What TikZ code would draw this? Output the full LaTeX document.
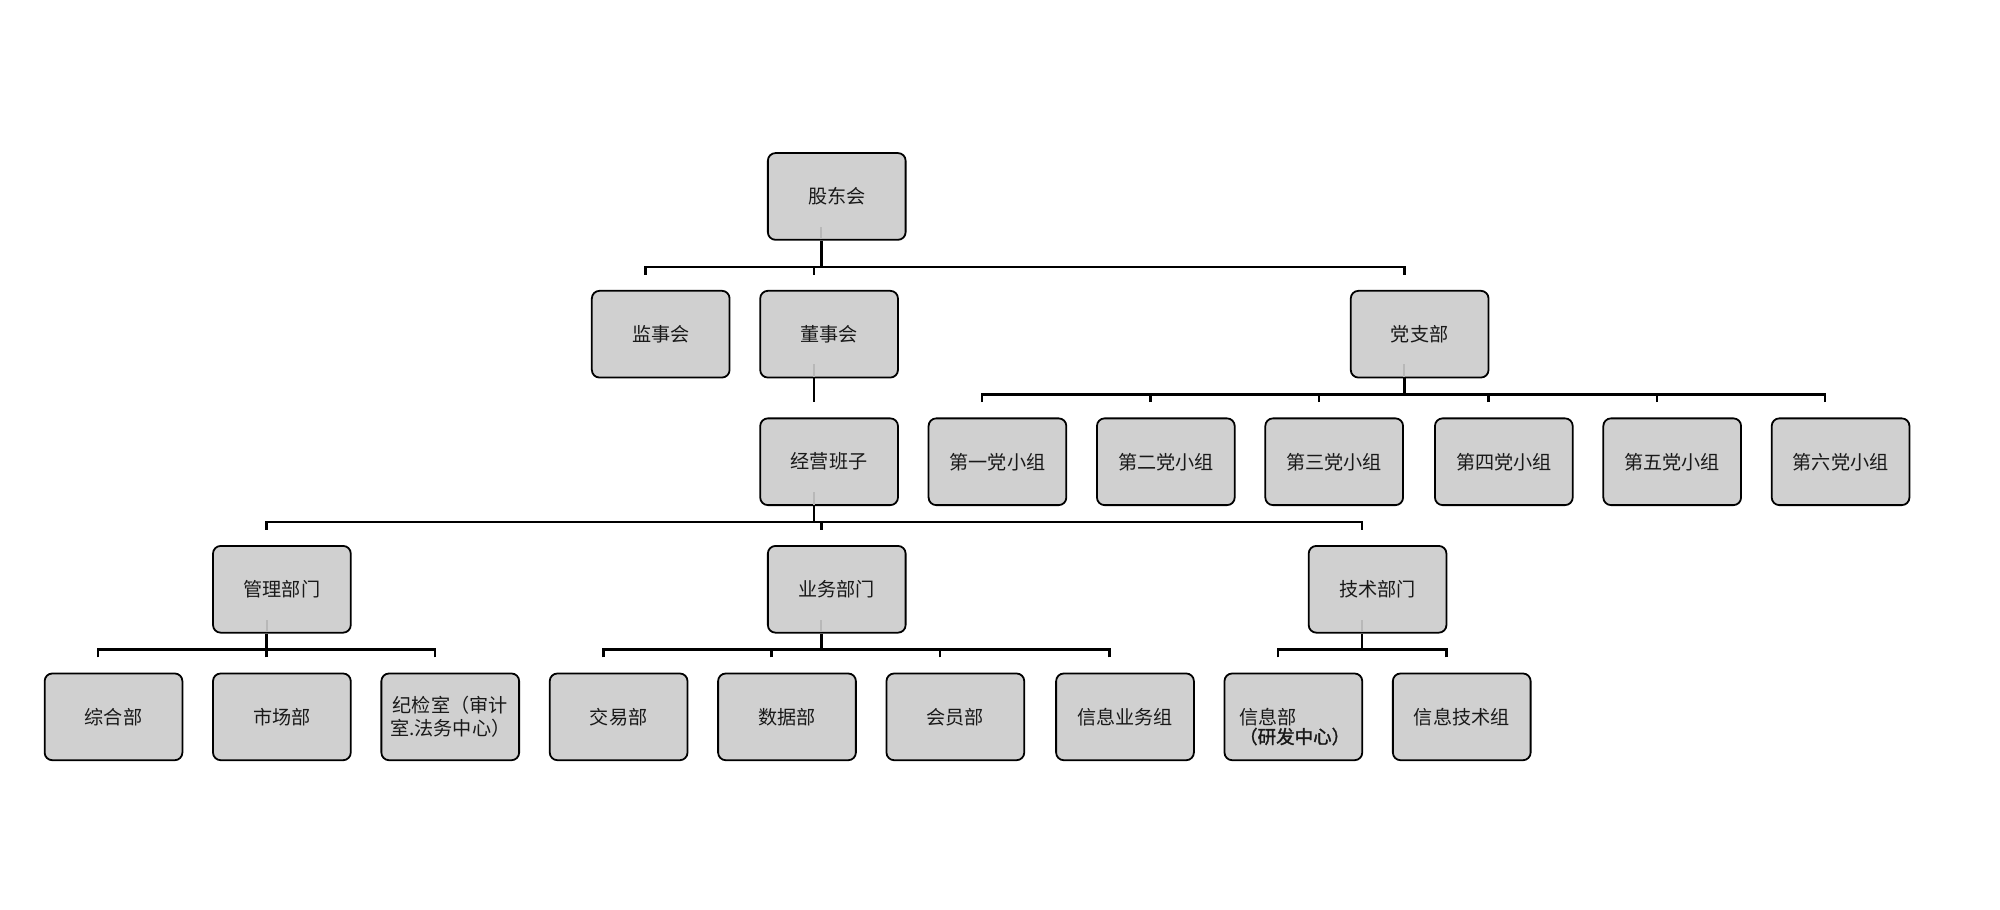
\documentclass[tikz,border=0pt]{standalone}
\usepackage{fontspec}
\newfontfamily\cjk[AutoFakeBold=1.5]{Noto Sans CJK SC}
\usetikzlibrary{calc}
\definecolor{boxfill}{RGB}{208,208,208}
\begin{document}
\begin{tikzpicture}[x=1pt,y=-1pt,
  box/.style={draw=black, line width=1.4pt, fill=boxfill, rounded corners=6pt,
    minimum width=108pt, minimum height=68pt, inner sep=0pt,
    font=\cjk\fontsize{15pt}{18pt}\selectfont, align=center, text=black!90},
  conn/.style={draw=black, line width=1.9pt},
  stub/.style={draw=black!28, line width=1.5pt}]
\useasboundingbox (0,0) rectangle (1568,713);
% level 0
\node[box] (gd) at (656,154) {股东会};
% level 1
\node[box] (jsh) at (518,262) {监事会};
\node[box] (dsh) at (650,262) {董事会};
\node[box] (dzb) at (1113,262) {党支部};
% level 2
\node[box] (jy) at (650,362) {经营班子};
\node[box] (p1) at (782,362) {第一党小组};
\node[box] (p2) at (914,362) {第二党小组};
\node[box] (p3) at (1046,362) {第三党小组};
\node[box] (p4) at (1179,362) {第四党小组};
\node[box] (p5) at (1311,362) {第五党小组};
\node[box] (p6) at (1443,362) {第六党小组};
% level 3
\node[box] (gl) at (221,462) {管理部门};
\node[box] (yw) at (656,462) {业务部门};
\node[box] (js) at (1080,462) {技术部门};
% level 4
\node[box] (zh) at (89,562) {综合部};
\node[box] (sc) at (221,562) {市场部};
\node[box] (jj) at (353,562) {纪检室（审计\\室.法务中心）};
\node[box] (jyb) at (485,562) {交易部};
\node[box] (sj) at (617,562) {数据部};
\node[box] (hy) at (749,562) {会员部};
\node[box] (xy) at (882,562) {信息业务组};
\node[box] (xx) at (1014,562) {};
\node[anchor=north west, inner sep=0pt, align=left, font=\cjk\fontsize{15pt}{15pt}\selectfont, text=black!90] (xxt) at ($(xx.west)+(12,-7)$) {信息部\\{\fontsize{14.5pt}{15pt}\selectfont\bfseries（研发中心）}};
\node[box] (xj) at (1146,562) {信息技术组};
% grey stubs inside parents
\foreach \p in {gd,dsh,dzb,jy,gl,yw,js}
  \draw[stub] ($(\p.south)+(-12,-1)$) -- ++(0,-10);
% connectors
\foreach \c in {jsh,dsh,dzb}
  \draw[conn] ($(\c.north)+(-12,-12)$) -- ++(0,-6) -| ($(gd.south)+(-12,0)$);
\draw[conn] ($(dsh.south)+(-12,0)$) -- ($(jy.north)+(-12,-12)$);
\foreach \c in {p1,p2,p3,p4,p5,p6}
  \draw[conn] ($(\c.north)+(-12,-12)$) -- ++(0,-6) -| ($(dzb.south)+(-12,0)$);
\foreach \c in {gl,yw,js}
  \draw[conn] ($(\c.north)+(-12,-12)$) -- ++(0,-6) -| ($(jy.south)+(-12,0)$);
\foreach \c in {zh,sc,jj}
  \draw[conn] ($(\c.north)+(-12,-12)$) -- ++(0,-6) -| ($(gl.south)+(-12,0)$);
\foreach \c in {jyb,sj,hy,xy}
  \draw[conn] ($(\c.north)+(-12,-12)$) -- ++(0,-6) -| ($(yw.south)+(-12,0)$);
\foreach \c in {xx,xj}
  \draw[conn] ($(\c.north)+(-12,-12)$) -- ++(0,-6) -| ($(js.south)+(-12,0)$);
\end{tikzpicture}
\end{document}
